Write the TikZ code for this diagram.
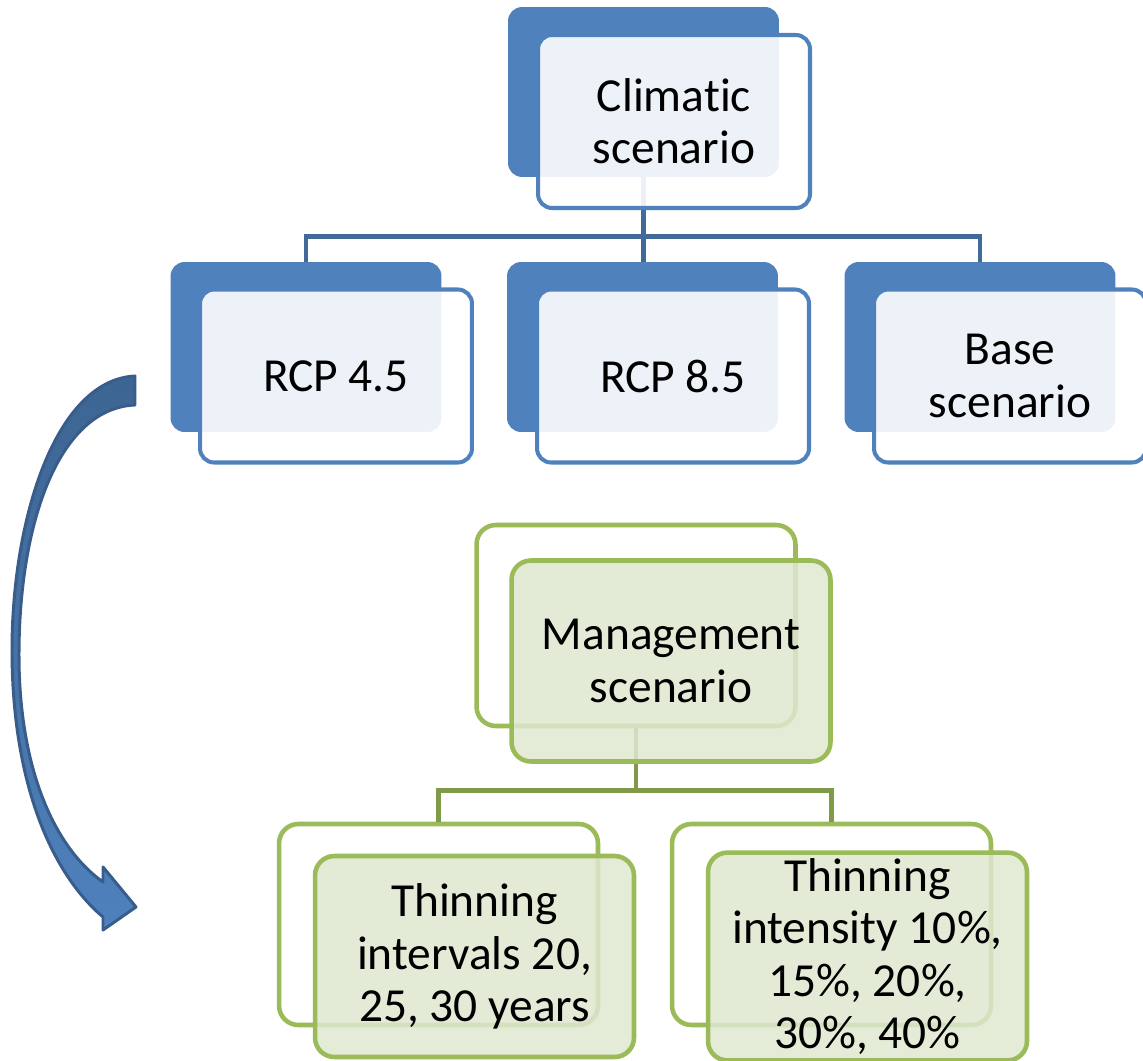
\documentclass[tikz,border=0pt]{standalone}
\usepackage{fontspec}
\setmainfont[Ligatures=NoCommon]{Carlito}
\usetikzlibrary{positioning}

\definecolor{accblue}{HTML}{4F81BD}
\definecolor{linkblue}{HTML}{41699A}
\definecolor{arrowtop}{HTML}{3D6593}
\definecolor{arrowedge}{HTML}{385D8A}
\definecolor{accgreen}{HTML}{9BBB59}
\definecolor{linkgreen}{HTML}{7F9A48}
\definecolor{palegreen}{HTML}{DFE8D0}

\newcommand{\boxfont}{\fontsize{27}{29.8}\selectfont}

\tikzset{
  backblue/.style={fill=accblue, rounded corners=8pt, inner sep=0pt,
    minimum width=5.42cm, minimum height=3.4cm},
  frontblue/.style={draw=accblue, line width=2.3pt, fill=white, fill opacity=0.9,
    text opacity=1, rounded corners=8pt, minimum width=5.44cm, minimum height=3.46cm,
    align=center, font=\boxfont},
  backgreen/.style={draw=accgreen, line width=2.6pt, fill=white, rounded corners=11pt,
    minimum width=6.38cm, minimum height=4.02cm},
  frontgreen/.style={draw=accgreen, line width=2.6pt, fill=palegreen, fill opacity=0.85,
    text opacity=1, rounded corners=11pt, minimum width=6.38cm, minimum height=4.02cm,
    align=center, font=\boxfont},
  bluelink/.style={draw=linkblue, line width=2.8pt},
  greenlink/.style={draw=linkgreen, line width=2.8pt},
}

\begin{document}
\begin{tikzpicture}[x=0.02cm, y=-0.02cm]
    \useasboundingbox (0,0) rectangle (1143,1061);

    % climatic scenarios
    \node [backblue] (climback) at (643.5,92) {};
    \node [backblue] (rcpaback) at (306,347) {};
    \node [backblue] (rcpbback) at (642.5,347) {};
    \node [backblue] (baseback) at (980,347) {};
    \draw [bluelink] (climback.south) -- ++(0,59) -| (rcpaback.north);
    \draw [bluelink] (climback.south) -- (climback.south |- rcpbback.north);
    \draw [bluelink] (climback.south) -- ++(0,59) -| (baseback.north);
    \node [frontblue] (clim) at (674,121.5) {Climatic\\scenario};
    \node [frontblue] (rcpa) at (336,376) {RCP 4.5};
    \node [frontblue] (rcpb) at (673,376) {RCP 8.5};
    \node [frontblue] (base) at (1010,376) {Base\\scenario};

    % management scenarios
    \node [backgreen] (mgmtback) at (636,625.5) {};
    \node [backgreen] (intervback) at (438.5,924.5) {};
    \node [backgreen] (intensback) at (831.5,924.5) {};
    \draw [greenlink] (mgmtback.south) -- ++(0,62) -| (intervback.north);
    \draw [greenlink] (mgmtback.south) -- ++(0,62) -| (intensback.north);
    \node [frontgreen] (mgmt) at (671,661) {Management\\scenario};
    \node [frontgreen] (interv) at (474.5,956.5) {Thinning\\intervals 20,\\25, 30 years};
    \node [frontgreen] (intens) at (867.5,956.5) {Thinning\\intensity 10\%,\\15\%, 20\%,\\30\%, 40\%};

    % curved arrow
    \path [draw=arrowedge, line width=1.7pt, line join=round, top color=arrowtop, bottom color=accblue]
      (135,376) .. controls (55,380) and (12,520) .. (12,650)
      .. controls (12,780) and (50,872) .. (103,917)
      -- (103,930) -- (136,907) -- (103,867) -- (103,882)
      .. controls (55,848) and (19,770) .. (19,655)
      .. controls (19,520) and (60,408) .. (135,405) -- cycle;
\end{tikzpicture}
\end{document}
